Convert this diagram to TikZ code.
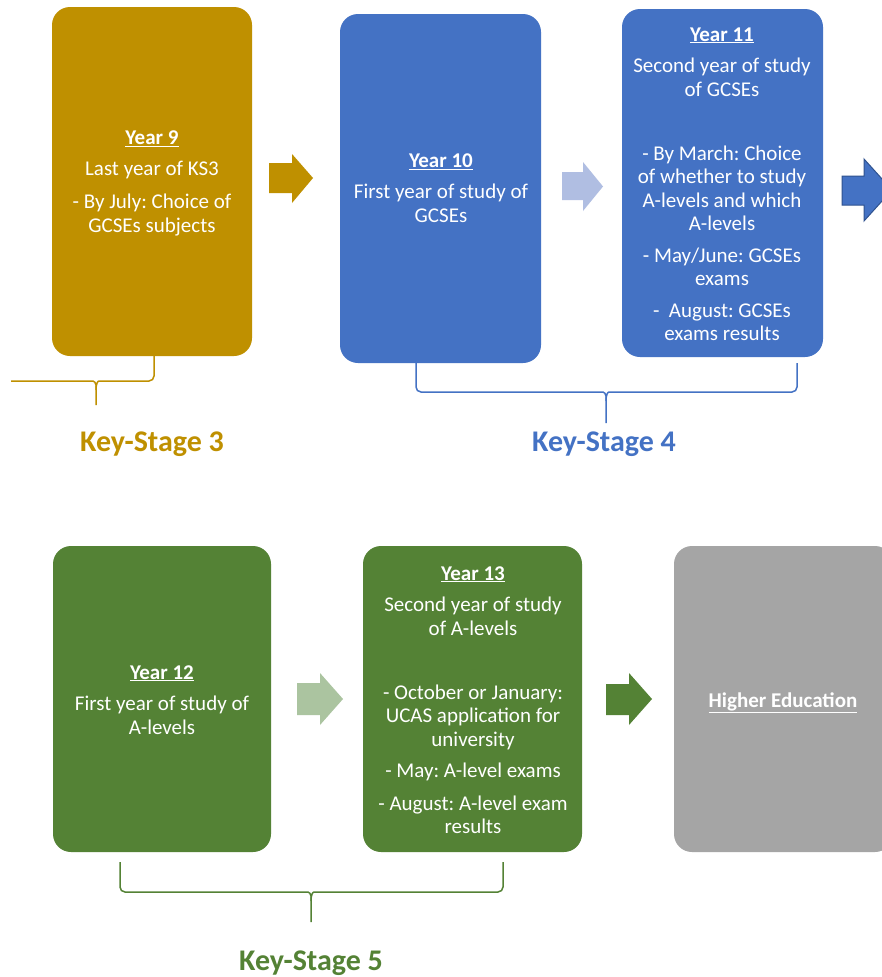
\documentclass[tikz,border=0pt]{standalone}
\usepackage{fontspec}
\setmainfont{Carlito}
\frenchspacing
\definecolor{gold}{HTML}{BF9000}
\definecolor{ksblue}{HTML}{4472C4}
\definecolor{ksblueline}{HTML}{2F528F}
\definecolor{lightblue}{RGB}{176,190,226}
\definecolor{ksgreen}{HTML}{548235}
\definecolor{lightgreen}{RGB}{171,196,160}
\definecolor{hegray}{HTML}{A5A5A5}
\tikzset{
  yearbox/.style={rectangle, rounded corners=18pt, draw=none, inner sep=0pt},
  txt/.style={text=white, align=center, font=\fontsize{21}{24}\selectfont\frenchspacing, inner sep=0pt, anchor=base},
  brace/.style={line width=1.5pt, rounded corners=5pt},
  kslabel/.style={font=\fontsize{30}{34}\selectfont\bfseries, inner sep=0pt, anchor=base},
}
\newcommand{\yhead}[1]{\underline{\textbf{#1}}}
\begin{document}
\begin{tikzpicture}[x=1pt,y=-1pt]
\useasboundingbox (0,0) rectangle (882,977);
\clip (0,0) rectangle (882,977);
\fill[white] (0,0) rectangle (882,977);

% boxes
\node[yearbox, fill=gold, minimum width=200pt, minimum height=349pt] (y9) at (152,181.5) {};
\node[yearbox, fill=ksblue, minimum width=201pt, minimum height=349pt] (y10) at (440.5,188.5) {};
\node[yearbox, fill=ksblue, minimum width=201pt, minimum height=348pt] (y11) at (722.5,183) {};
\node[yearbox, fill=ksgreen, minimum width=218pt, minimum height=306pt] (y12) at (162,699) {};
\node[yearbox, fill=ksgreen, minimum width=219pt, minimum height=306pt] (y13) at (472.5,699) {};
\node[yearbox, fill=hegray, minimum width=219pt, minimum height=306pt] (he) at (783.5,699) {};

% texts (anchor base = baseline of the last line)
\node[txt] (t9) at (152,232.5) {\yhead{Year 9}\\[7pt] Last year of KS3\\[9pt] - By July: Choice of\\ GCSEs subjects};
\node[txt] (t10) at (441,222.5) {\yhead{Year 10}\\[7pt] First year of study of\\ GCSEs};
\node[txt] (t11) at (722,340.5) {\yhead{Year 11}\\[7pt] Second year of study\\ of GCSEs\\[40pt]
  - By March: Choice\\[-0.5pt] of whether to study\\[-0.5pt] A-levels and which\\[-0.5pt] A-levels\\[8pt]
  - May/June: GCSEs\\[-1pt] exams\\[8pt]
  -\ \ August: GCSEs\\[-1pt] exams results};
\node[txt] (t12) at (162,734) {\yhead{Year 12}\\[7pt] First year of study of\\ A-levels};
\node[txt] (t13) at (473,833) {\yhead{Year 13}\\[7pt] Second year of study\\ of A-levels\\[40pt]
  - October or January:\\[-0.5pt] UCAS application for\\[-0.5pt] university\\[7pt]
  - May: A-level exams\\[9pt]
  - August: A-level exam\\[-1pt] results};
\node[txt] (the) at (783,707) {\yhead{Higher Education}};

% block arrows
\fill[gold] (269,163) -- (292,163) -- (292,154) -- (313,178) -- (292,203) -- (292,193) -- (269,193) -- cycle;
\fill[lightblue] (562,172) -- (583,172) -- (583,162) -- (603,186.5) -- (583,211) -- (583,200) -- (562,200) -- cycle;
\filldraw[fill=ksblue, draw=ksblueline, line width=1pt] (842,176) -- (864,176) -- (864,159) -- (892,190) -- (864,221) -- (864,205) -- (842,205) -- cycle;
\fill[lightgreen] (297,683) -- (320,683) -- (320,673) -- (343,699) -- (320,725) -- (320,715) -- (297,715) -- cycle;
\fill[ksgreen] (606,684) -- (629,684) -- (629,673) -- (652,699) -- (629,725) -- (629,715) -- (606,715) -- cycle;

% braces
\draw[brace, gold] (11,381) -- (88,381) .. controls (94,381) and (96,383) .. (96,390) -- (96,405);
\draw[brace, gold] (96,390) .. controls (96,383) and (98,381) .. (104,381) -- (154,381) -- (154,356);
\draw[brace, ksblue] (416,363) -- (416,392) -- (598,392) .. controls (604,392) and (606,394) .. (606,401) -- (606,423);
\draw[brace, ksblue] (606,401) .. controls (606,394) and (608,392) .. (614,392) -- (797,392) -- (797,363);
\draw[brace, ksgreen] (120,862) -- (120,892) -- (303,892) .. controls (309,892) and (311,894) .. (311,901) -- (311,922);
\draw[brace, ksgreen] (311,901) .. controls (311,894) and (313,892) .. (319,892) -- (503,892) -- (503,862);

% labels
\node[kslabel, text=gold] (ks3) at (152,451) {Key-Stage 3};
\node[kslabel, text=ksblue] (ks4) at (604,451) {Key-Stage 4};
\node[kslabel, text=ksgreen] (ks5) at (311,970) {Key-Stage 5};
\end{tikzpicture}
\end{document}
